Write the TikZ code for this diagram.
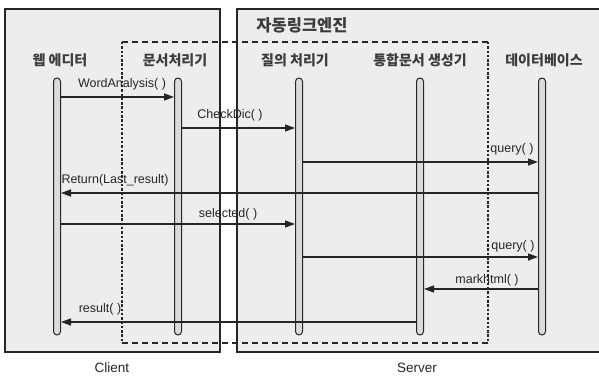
\documentclass[tikz,border=0pt]{standalone}
\usepackage{fontspec}
\setmainfont{Liberation Sans}
\newfontfamily\kr{Noto Sans CJK KR}
\usetikzlibrary{arrows.meta}
\definecolor{boxfill}{HTML}{EDEDED}
\definecolor{ink}{HTML}{262626}
\begin{document}
\begin{tikzpicture}[x=1pt,y=-1pt,
  region/.style={draw=ink,line width=1.6pt,fill=boxfill},
  life/.style={draw=ink,line width=1pt,fill=gray!28,rounded corners=3.5pt,minimum width=7pt,minimum height=257pt,inner sep=0pt},
  head/.style={font=\kr\fontsize{14}{16}\selectfont\bfseries,text=ink!90,inner sep=0pt},
  msg/.style={draw=ink,line width=1.3pt,-{Triangle[length=10pt,width=7pt]}},
  lbl/.style={font=\fontsize{12.5}{14}\selectfont,text=ink,inner sep=0pt,anchor=base},
  outer/.style={font=\fontsize{13.5}{15}\selectfont,text=ink,inner sep=0pt}]
\useasboundingbox (0,0) rectangle (599,377);
\fill[white] (0,0) rectangle (599,377);
% regions
\draw[region] (5,9) rectangle (220,352);
\draw[region] (237,9) rectangle (605,352);
\node[head,font=\kr\fontsize{16.5}{18}\selectfont\bfseries] (engine) at (302,25) {자동링크엔진};
\node[outer] (client) at (112,368) {Client};
\node[outer] (server) at (417,368) {Server};
% dashed engine box
\draw[ink,line width=1.5pt,dash pattern=on 6pt off 4pt] (122,42) -- (488,42);
\draw[ink,line width=1.5pt,dash pattern=on 6pt off 4pt] (122,343) -- (488,343);
\draw[ink,line width=1.5pt,dash pattern=on 2.5pt off 1.8pt] (122,42) -- (122,343);
\draw[ink,line width=1.5pt,dash pattern=on 2.5pt off 1.8pt] (488,42) -- (488,343);
% headers
\node[head] (h1) at (60,60) {웹 에디터};
\node[head] (h2) at (175,60) {문서처리기};
\node[head] (h3) at (295,60) {질의 처리기};
\node[head] (h4) at (420,60) {통합문서 생성기};
\node[head] (h5) at (544,60) {데이터베이스};
% lifelines
\node[life] (L1) at (57,206.5) {};
\node[life] (L2) at (178,206.5) {};
\node[life] (L3) at (299,206.5) {};
\node[life] (L4) at (420,206.5) {};
\node[life] (L5) at (542,206.5) {};
% messages
\draw[msg] (L1.east |- 0,97) -- (L2.west |- 0,97);
\node[lbl] (m1) at (122,88) {WordAnalysis( )};
\draw[msg] (L2.east |- 0,128) -- (L3.west |- 0,128);
\node[lbl] (m2) at (230,118) {CheckDic( )};
\draw[msg] (L3.east |- 0,162) -- (L5.west |- 0,162);
\node[lbl] (m3) at (512,152) {query( )};
\draw[msg] (L5.west |- 0,193) -- (L1.east |- 0,193);
\node[lbl] (m4) at (115,183) {Return(Last\_result)};
\draw[msg] (L1.east |- 0,224) -- (L3.west |- 0,224);
\node[lbl] (m5) at (228,217) {selected( )};
\draw[msg] (L3.east |- 0,257) -- (L5.west |- 0,257);
\node[lbl] (m6) at (513,249) {query( )};
\draw[msg] (L5.west |- 0,289) -- (L4.east |- 0,289);
\node[lbl] (m7) at (487,283) {markhtml( )};
\draw[msg] (L4.west |- 0,322) -- (L1.east |- 0,322);
\node[lbl] (m8) at (100,312) {result( )};
\end{tikzpicture}
\end{document}
